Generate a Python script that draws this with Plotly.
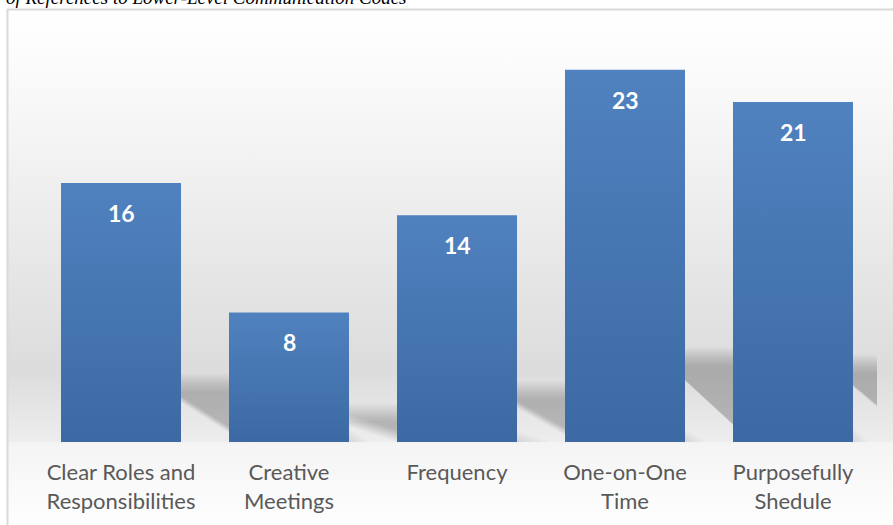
import base64
import plotly.graph_objects as go

# ---- data -------------------------------------------------------------
categories = [
    "Clear Roles and<br>Responsibilities",
    "Creative<br>Meetings",
    "Frequency",
    "One-on-One<br>Time",
    "Purposefully<br>Shedule",
]
values = [16, 8, 14, 23, 21]
title_text = "Number of References to Lower-Level Communication Codes"

# ---- geometry of the canvas ---------------------------------------------
W, H = 893, 525
PX_LEFT, PX_RIGHT = 37, 877          # horizontal extent of the plot area
PX_BASE = 442                        # pixel row of y = 0
Y_MAX = 26
PX_PER_UNIT = 16.19
PX_TOP = PX_BASE - Y_MAX * PX_PER_UNIT
PX_PER_CAT = (PX_RIGHT - PX_LEFT) / len(categories)
BAR_W = 120 / PX_PER_CAT             # bar width in category units


def px_x(p):
    return p / W


def px_y(p):
    return (H - p) / H


BAR_TOP = "rgb(80,130,191)"
BAR_BOTTOM = "rgb(60,105,163)"

fig = go.Figure()

# ---- soft perspective shadows cast behind every bar ---------------------
SCALE = 0.23        # shadow height relative to the bar
TOP_INSET = 26      # px: shadow top edge starts this far left of bar's right side
SLANT = 93          # px: horizontal run of the slanted leading edge
SHADOW_W = 98       # px: width of the shadow band
BLUR_STEPS = 14
BLUR_PX = 18
for i, v in enumerate(values):
    x1 = i + BAR_W / 2
    top = SCALE * v
    for k in range(BLUR_STEPS):
        d = (k / (BLUR_STEPS - 1) - 0.5) * BLUR_PX   # outward offset in px
        t = top + d / PX_PER_UNIT
        below = -0.6
        # leading edge runs from (x1 - inset, top) down-right with a fixed slant
        x_top_l = x1 + (-TOP_INSET - d) / PX_PER_CAT
        x_bot_l = x_top_l + SLANT / PX_PER_CAT * (t - below) / top
        width = (SHADOW_W + 2 * d) / PX_PER_CAT
        xs = [x_bot_l, x_bot_l + width, x_top_l + width, x_top_l, x_bot_l]
        ys = [below, below, t, t, below]
        fig.add_trace(go.Scatter(
            x=xs, y=ys, mode="lines", fill="toself",
            fillcolor="rgba(0,0,0,0.0138)", line=dict(width=0),
            hoverinfo="skip", showlegend=False,
        ))

# ---- bars with a vertical gradient ---------------------------------------
for i, v in enumerate(values):
    x0, x1 = i - BAR_W / 2, i + BAR_W / 2
    fig.add_trace(go.Scatter(
        x=[x0, x1, x1, x0, x0], y=[0, 0, v, v, 0],
        mode="lines", fill="toself", line=dict(width=0),
        fillgradient=dict(type="vertical", start=0, stop=v,
                          colorscale=[[0, BAR_BOTTOM], [1, BAR_TOP]]),
        hovertemplate="%{text}<extra></extra>", text=[str(v)] * 5,
        showlegend=False,
    ))

# ---- value labels inside the bars ---------------------------------------
for i, v in enumerate(values):
    fig.add_annotation(
        x=i, y=v, xref="x", yref="y", text=str(v), showarrow=False,
        yanchor="middle", yshift=-30,
        font=dict(family="Lato", size=23, color="white", weight="bold"),
    )

# ---- chart-area background gradient --------------------------------------
bg_top, bg_bottom = 10, H
span = bg_bottom - bg_top
def off(p):
    return f"{(p - bg_top) / span:.4f}"

svg = (
    '<svg xmlns="http://www.w3.org/2000/svg" width="100" height="100" preserveAspectRatio="none">'
    '<defs><linearGradient id="g" x1="0" y1="0" x2="0" y2="1">'
    f'<stop offset="0" stop-color="#ffffff"/>'
    f'<stop offset="{off(100)}" stop-color="#f8f8f8"/>'
    f'<stop offset="{off(370)}" stop-color="#dcdcdc"/>'
    f'<stop offset="{off(441)}" stop-color="#ededed"/>'
    f'<stop offset="{off(443)}" stop-color="#f4f4f4"/>'
    f'<stop offset="1" stop-color="#fefefe"/>'
    '</linearGradient></defs>'
    '<rect width="100" height="100" fill="url(#g)"/></svg>'
)
svg_uri = "data:image/svg+xml;base64," + base64.b64encode(svg.encode()).decode()
fig.add_layout_image(
    source=svg_uri, xref="paper", yref="paper",
    x=px_x(8), y=px_y(bg_top), sizex=1.0, sizey=span / H,
    xanchor="left", yanchor="top", sizing="stretch", layer="below",
)

# ---- chart frame ---------------------------------------------------------
fig.add_shape(
    type="rect", xref="paper", yref="paper",
    x0=px_x(7.5), y0=-0.1, x1=1.1, y1=px_y(9.5),
    line=dict(color="#d9d9d9", width=2), fillcolor="rgba(0,0,0,0)",
)

# ---- caption above the frame ---------------------------------------------
fig.add_annotation(
    xref="paper", yref="paper", x=px_x(408), y=px_y(10),
    xanchor="right", yanchor="bottom", showarrow=False, text=title_text,
    font=dict(family="Liberation Serif", size=19, color="black", style="italic"),
)

fig.update_layout(
    width=W, height=H,
    margin=dict(l=0, r=0, t=0, b=0),
    paper_bgcolor="white", plot_bgcolor="rgba(0,0,0,0)",
    showlegend=False,
    xaxis=dict(
        domain=[px_x(PX_LEFT), px_x(PX_RIGHT)],
        range=[-0.5, len(categories) - 0.5],
        tickmode="array", tickvals=list(range(len(categories))),
        ticktext=categories, showgrid=False, zeroline=False, showline=False,
        ticks="", ticklabelstandoff=15,
        tickfont=dict(family="Lato", size=22, color="#595959"),
        fixedrange=True,
    ),
    yaxis=dict(
        domain=[px_y(PX_BASE), px_y(PX_TOP)],
        range=[0, Y_MAX], showgrid=False, zeroline=False, showline=False,
        showticklabels=False, ticks="", fixedrange=True,
    ),
)

fig.write_html("out.html")
